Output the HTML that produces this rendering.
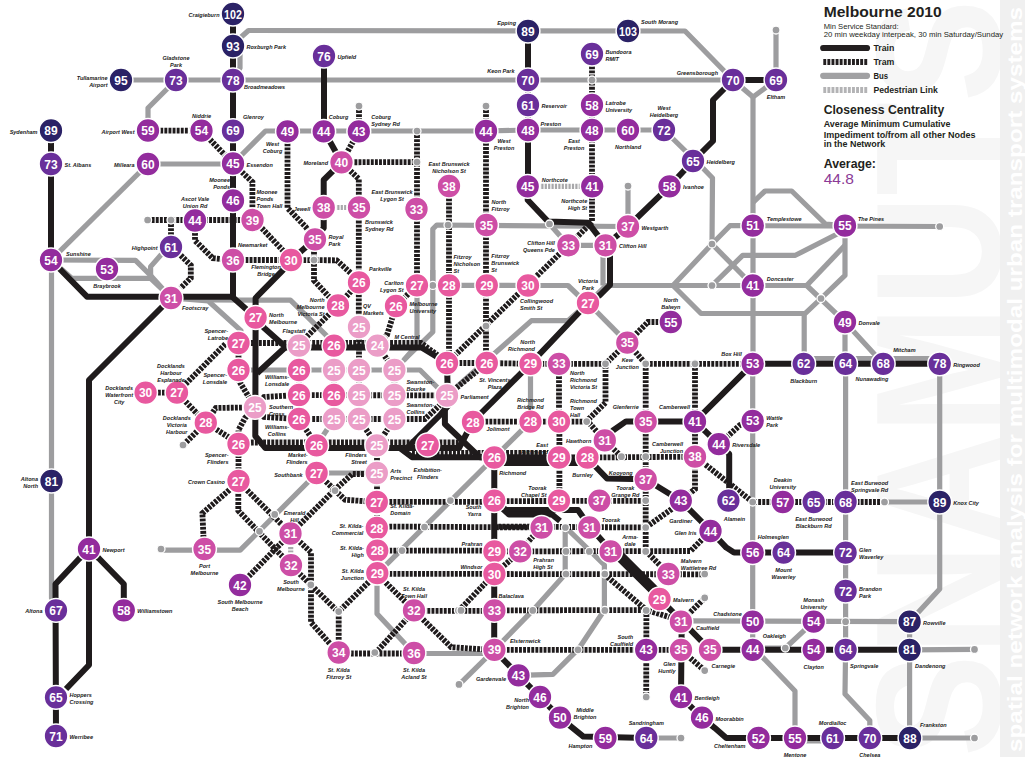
<!DOCTYPE html><html><head><meta charset="utf-8"><style>html,body{margin:0;padding:0;background:#fff;overflow:hidden}svg{display:block}</style></head><body><svg width="1025" height="757" viewBox="0 0 1025 757"><g>
<text transform="translate(1000,757) rotate(-90)" font-family="Liberation Sans" font-weight="bold" font-size="178" fill="#f6f6f6" textLength="757" lengthAdjust="spacingAndGlyphs">SNAMUTS</text>
<rect x="1000" y="0" width="25" height="757" fill="#f0f0f0"/>
<text transform="translate(1022,752) rotate(-90)" font-family="Liberation Sans" font-weight="bold" font-size="21" fill="#ffffff" textLength="745" lengthAdjust="spacingAndGlyphs">spatial network analysis for multimodal urban transport systems</text>
</g>
<g stroke="#9d9d9f" stroke-width="5.2" fill="none" stroke-linejoin="round"><path d="M121.0,80.0 L733.0,80.0"/><path d="M233.0,80.0 L240.0,68.0 L240.0,38.0 L248.5,30.5 L685.0,31.0 L733.0,80.0"/><path d="M176.0,80.0 L148.0,108.0 L148.0,130.0"/><path d="M148.0,164.0 L233.0,164.0"/><path d="M51.0,260.0 L148.0,164.0"/><path d="M233.0,163.5 L265.5,131.0 L486.0,131.0 L528.0,130.0 L664.0,130.0 L702.8,168.0 L712.5,178.0 L712.0,244.0"/><path d="M51.5,260.0 L51.5,598.0 L56.0,610.3"/><path d="M51.0,260.0 L135.5,260.3 L150.6,275.4 L171.0,298.0"/><path d="M51.0,260.0 L72.0,278.4 L150.6,278.4 L163.0,290.0"/><path d="M171.0,247.0 L160.6,255.3 L150.6,266.6 L150.6,278.0"/><path d="M432.8,285.3 L432.8,229.0 L436.8,225.0 L628.0,226.5"/><path d="M417.0,285.3 L528.0,285.5"/><path d="M776.0,30.0 L776.0,80.0"/><path d="M733.0,80.0 L753.0,97.0 L776.0,80.0"/><path d="M753.0,97.0 L753.0,363.8"/><path d="M628.0,186.0 L628.0,226.5"/><path d="M549.5,224.0 L568.4,245.3 L605.5,245.3"/><path d="M447.0,395.5 L531.5,320.6 L568.0,320.6 L588.0,303.0"/><path d="M528.0,285.5 L568.0,285.5 L580.0,297.0 L588.0,303.0"/><path d="M588.0,303.0 L606.0,285.5 L806.7,285.5 L845.0,322.0 L883.2,363.8"/><path d="M588.0,303.0 L627.3,342.7"/><path d="M752.8,225.7 L730.0,225.7 L712.0,244.0 L673.0,285.5 L701.0,313.5 L804.2,313.5"/><path d="M712.0,244.0 L752.8,285.5"/><path d="M752.8,202.6 L765.0,191.0 L791.7,191.0 L825.5,224.0 L845.0,225.7"/><path d="M752.8,225.7 L939.7,226.5"/><path d="M845.0,230.0 L795.4,255.3 L742.7,255.3 L712.0,285.5"/><path d="M845.0,225.7 L845.0,275.4 L821.0,298.5 L804.2,314.3 L804.2,363.8"/><path d="M845.0,245.3 L806.7,285.5"/><path d="M845.0,322.0 L845.0,363.8"/><path d="M238.5,370.0 L420.0,370.0 L440.0,390.0 L447.8,395.5"/><path d="M334.0,419.0 L316.6,445.4"/><path d="M171.0,298.0 L208.3,301.0 L241.0,330.6 L238.5,343.0"/><path d="M208.3,300.0 L290.4,300.1 L326.0,335.2 L334.0,345.7"/><path d="M417.0,285.3 L417.0,345.0 L404.0,360.0 L394.4,370.0"/><path d="M432.8,270.0 L432.8,332.0 L404.0,360.0"/><path d="M161.0,550.2 L240.2,550.2 L317.0,473.0 L376.8,473.0"/><path d="M377.0,573.9 L530.5,421.6"/><path d="M377.0,573.9 L377.0,613.7 L414.2,653.5"/><path d="M414.2,653.5 L494.2,653.5"/><path d="M459.3,684.4 L494.2,650.0"/><path d="M646.3,738.0 L681.0,738.0"/><path d="M565.2,526.8 L565.2,574.3 L532.8,610.4 L494.2,650.0"/><path d="M565.2,526.8 L589.6,550.5 L604.4,565.0 L604.4,610.0 L578.7,648.7 L552.9,674.4 L518.5,675.4"/><path d="M752.7,649.8 L763.0,657.6 L795.0,691.0 L795.0,738.0"/><path d="M845.6,649.8 L845.0,694.0 L869.8,720.5 L869.8,738.0"/><path d="M909.6,621.7 L909.6,738.0"/><path d="M909.6,649.8 L974.5,649.4"/><path d="M910.0,738.0 L974.5,738.0"/><path d="M795.0,741.0 L832.6,741.0"/><path d="M803.7,358.5 L939.7,358.5"/><path d="M939.7,363.8 L939.7,589.0 L909.6,621.7"/><path d="M884.5,502.0 L939.7,502.0"/><path d="M752.7,363.8 L752.7,649.8"/><path d="M845.6,363.8 L845.6,649.8"/><path d="M681.7,620.9 L909.6,621.7"/><path d="M813.7,621.7 L785.3,648.0 L765.0,648.0"/><path d="M603.0,256.0 L603.0,285.5"/><path d="M530.5,363.8 L530.5,421.6"/></g><g stroke="#a8a8aa" stroke-width="5.2" fill="none" stroke-dasharray="2.2 1.2"><path d="M323.7,207.5 L358.8,207.5"/><path d="M527.7,186.3 L592.2,186.3"/><path d="M290.7,533.4 L290.7,565.1"/></g><g stroke="#1f1b1c" stroke-width="5.8" fill="none" stroke-dasharray="2.9 1.2"><path d="M148.0,130.5 L201.5,130.7"/><path d="M201.5,130.7 L233.0,163.5"/><path d="M233.0,163.5 L252.4,182.0 L252.4,220.0"/><path d="M359.0,106.0 L359.0,131.0 L341.5,162.3 L417.0,162.0"/><path d="M341.5,162.3 L358.8,179.0 L358.8,327.0"/><path d="M417.0,131.0 L417.0,285.3"/><path d="M287.5,131.0 L287.5,208.0 L305.6,226.8 L315.0,239.3"/><path d="M252.5,220.0 L261.7,228.0 L283.0,250.6 L291.0,260.0"/><path d="M147.6,220.0 L252.5,220.0"/><path d="M171.0,220.0 L171.0,247.0"/><path d="M180.7,255.3 L190.8,265.3 L190.8,278.0 L180.7,288.0"/><path d="M195.0,220.5 L195.0,240.6 L212.8,258.2 L233.0,260.0 L291.0,260.0"/><path d="M291.0,260.0 L336.6,260.3 L351.7,274.0 L359.0,282.4"/><path d="M314.0,239.3 L314.0,280.4 L327.8,295.5 L338.0,305.5"/><path d="M486.0,106.0 L486.0,363.0"/><path d="M449.0,186.0 L449.0,363.0"/><path d="M592.0,54.0 L592.0,222.0 L570.0,244.0"/><path d="M568.4,245.3 L447.0,363.0"/><path d="M447.0,395.5 L486.8,363.0"/><path d="M627.3,342.7 L648.0,322.0 L670.8,322.0"/><path d="M627.3,342.7 L605.5,363.8"/><path d="M627.3,342.7 L645.7,363.8"/><path d="M242.5,343.0 L421.0,343.0 L440.0,357.0"/><path d="M238.5,442.5 L459.0,442.5"/><path d="M412.0,453.0 L494.0,453.0"/><path d="M145.6,392.6 L177.0,392.6"/><path d="M177.0,392.6 L226.0,343.5 L238.5,343.0"/><path d="M177.0,392.6 L205.8,422.7"/><path d="M205.8,422.7 L215.8,408.0 L255.0,407.3"/><path d="M205.8,422.7 L238.5,443.6"/><path d="M205.8,422.7 L183.0,445.3"/><path d="M238.5,370.0 L238.5,380.0 L255.0,407.3"/><path d="M255.0,407.3 L245.0,418.0 L238.5,430.0 L238.5,481.5"/><path d="M238.5,343.0 L238.5,370.0"/><path d="M255.0,407.3 L264.0,397.0 L299.0,395.0 L447.0,395.5"/><path d="M255.0,407.3 L264.0,417.0 L299.0,419.0 L425.0,419.0 L440.0,405.0"/><path d="M299.0,419.0 L316.6,445.4"/><path d="M359.0,419.0 L377.0,445.4 L394.4,419.0"/><path d="M377.0,445.4 L377.0,573.9"/><path d="M417.0,285.3 L396.0,306.0 L387.0,335.0 L377.5,345.7"/><path d="M377.5,345.7 L394.4,370.0"/><path d="M338.0,305.5 L359.0,282.4"/><path d="M338.0,305.5 L308.2,335.2 L299.0,345.7"/><path d="M359.0,327.0 L359.0,419.0"/><path d="M334.0,345.7 L334.0,419.0"/><path d="M299.0,345.7 L299.0,419.0"/><path d="M394.4,370.0 L394.4,419.0"/><path d="M447.0,363.0 L486.8,363.0 L530.5,363.8 L559.0,363.8 L605.5,363.8"/><path d="M645.7,363.8 L752.7,363.8"/><path d="M238.3,481.5 L238.3,510.7 L290.7,565.1"/><path d="M238.3,481.5 L290.7,533.4"/><path d="M238.3,481.5 L229.3,490.0 L202.4,513.2 L204.1,550.2"/><path d="M317.0,473.0 L345.0,499.8 L376.8,502.0"/><path d="M290.7,533.4 L334.6,490.0 L352.4,474.0 L376.8,474.0"/><path d="M240.2,585.1 L290.7,533.4"/><path d="M290.7,533.4 L311.0,552.2 L311.0,622.4 L338.7,653.5"/><path d="M290.7,565.1 L338.3,612.0 L377.0,573.9"/><path d="M377.0,501.8 L494.2,501.8"/><path d="M377.0,526.5 L541.6,527.5"/><path d="M377.0,550.6 L494.2,550.6"/><path d="M377.0,573.9 L494.2,573.9"/><path d="M377.0,573.9 L414.2,610.8 L494.2,610.8"/><path d="M458.7,610.8 L494.2,573.9"/><path d="M414.2,610.8 L451.2,647.2 L494.2,650.0"/><path d="M338.7,612.3 L338.7,653.5 L414.2,653.5"/><path d="M375.0,653.5 L414.2,610.8"/><path d="M559.4,421.6 L559.4,501.1"/><path d="M494.3,501.1 L645.9,500.8"/><path d="M494.3,526.5 L645.7,527.5 L681.7,502.0"/><path d="M541.9,526.5 L519.7,551.0"/><path d="M587.1,457.5 L695.0,456.7"/><path d="M604.6,440.5 L587.1,420.6 L605.5,402.7 L605.5,363.8"/><path d="M604.6,440.5 L621.6,456.8"/><path d="M695.9,457.1 L752.7,502.0 L884.5,502.0"/><path d="M752.7,420.8 L740.0,425.0 L718.8,444.2"/><path d="M645.7,363.8 L645.7,551.4"/><path d="M695.0,363.8 L695.0,489.0 L680.8,500.6"/><path d="M494.4,551.4 L690.6,551.0 L710.5,531.0"/><path d="M646.0,551.0 L668.8,574.3"/><path d="M494.4,574.0 L704.5,574.3"/><path d="M494.4,574.0 L520.2,551.4"/><path d="M604.4,574.3 L646.4,610.0 L681.7,620.9"/><path d="M494.4,610.4 L646.4,610.0"/><path d="M646.4,610.0 L646.2,697.0"/><path d="M681.7,620.9 L704.5,598.1"/><path d="M494.4,649.8 L681.0,649.8"/><path d="M681.0,650.0 L704.7,670.6"/><path d="M559.0,363.8 L559.0,421.6"/><path d="M473.0,421.6 L586.7,421.6"/><path d="M502.0,453.0 L555.0,453.0"/></g><g stroke="#1f1b1c" stroke-width="6" fill="none" stroke-linejoin="round"><path d="M233.0,14.0 L233.0,297.5 L255.6,317.5"/><path d="M51.0,130.0 L51.0,260.0 L87.0,296.7 L233.0,296.7"/><path d="M324.0,56.0 L324.0,131.0 L341.5,162.3 L323.7,180.0 L323.7,228.0 L315.0,239.3 L291.0,260.0 L282.7,270.4 L255.6,298.0 L255.6,317.5"/><path d="M171.0,298.0 L89.0,380.0 L89.0,549.0"/><path d="M528.0,31.0 L528.0,186.3 L527.7,200.0 L548.0,221.5 L588.0,222.7 L605.5,245.3"/><path d="M605.5,245.3 L628.0,226.5 L669.5,186.3 L693.0,161.0 L713.0,141.0 L713.0,100.0 L733.0,80.0 L776.0,80.0"/><path d="M605.5,245.3 L610.0,256.0 L610.0,285.0 L600.0,295.0 L588.0,303.0 L530.5,363.8"/><path d="M255.6,317.5 L255.3,436.0 L265.4,448.0 L407.0,448.0 L440.6,414.5 L447.8,406.0 L447.8,395.5"/><path d="M255.6,317.5 L264.2,328.0 L285.6,347.0 L257.1,373.2"/><path d="M285.6,347.5 L421.5,347.5 L447.0,363.0 L447.8,395.5"/><path d="M447.8,395.5 L444.9,406.0 L444.9,424.0 L479.8,457.2 L494.3,457.2"/><path d="M400.0,448.0 L412.0,457.2 L494.3,457.2"/><path d="M407.0,448.0 L459.0,448.0 L473.2,421.0"/><path d="M473.2,421.0 L530.5,363.8"/><path d="M494.3,457.2 L494.2,650.0 L518.5,675.4 L540.0,697.0 L560.0,717.6 L583.4,736.6 L646.3,738.0"/><path d="M494.3,457.2 L587.1,457.5 L604.8,440.4"/><path d="M502.0,463.0 L580.0,463.0 L594.0,465.0 L607.0,478.5 L645.7,479.3"/><path d="M604.6,440.5 L613.3,430.2 L626.0,421.4 L695.1,421.4 L752.7,363.8"/><path d="M695.1,421.4 L718.9,444.4 L729.2,454.0 L729.2,487.3 L728.4,500.6"/><path d="M645.7,479.3 L680.8,500.8 L710.5,530.7 L726.3,547.6 L734.0,552.6 L845.6,552.6"/><path d="M494.3,501.1 L506.0,510.0 L578.0,510.0 L589.5,526.5 L610.8,550.5 L658.9,598.1 L681.7,620.9 L710.0,649.8 L909.6,649.8"/><path d="M494.3,501.1 L509.0,514.5 L552.0,514.5 L560.0,521.0"/><path d="M614.0,547.0 L662.0,595.0"/><path d="M681.7,620.9 L681.0,697.0 L702.0,717.6 L714.6,727.8 L726.3,738.0 L910.0,738.0"/><path d="M752.7,363.8 L939.7,363.8"/><path d="M89.0,549.0 L79.4,558.5 L55.5,584.0 L56.0,736.0"/><path d="M89.0,549.0 L89.0,665.0 L66.0,689.0"/><path d="M89.0,549.0 L99.0,558.5 L123.8,584.0 L123.8,610.3"/></g><g fill="#9d9d9f" stroke="#fff" stroke-width="1.3"><circle cx="147.6" cy="220.0" r="4"/><circle cx="171.0" cy="220.0" r="4"/><circle cx="359.0" cy="106.0" r="4"/><circle cx="486.0" cy="106.0" r="4"/><circle cx="417.0" cy="131.0" r="4"/><circle cx="417.0" cy="162.0" r="4"/><circle cx="592.0" cy="80.0" r="4"/><circle cx="628.0" cy="186.0" r="4"/><circle cx="549.5" cy="224.0" r="4"/><circle cx="712.0" cy="244.0" r="4"/><circle cx="712.0" cy="285.5" r="4"/><circle cx="821.0" cy="298.5" r="4"/><circle cx="939.7" cy="226.5" r="4"/><circle cx="314.0" cy="260.0" r="4"/><circle cx="432.8" cy="285.4" r="4"/><circle cx="448.0" cy="225.0" r="4"/><circle cx="486.0" cy="326.0" r="4"/><circle cx="183.0" cy="445.0" r="4"/><circle cx="161.0" cy="549.0" r="4"/><circle cx="274.7" cy="514.4" r="4"/><circle cx="259.5" cy="531.3" r="4"/><circle cx="335.0" cy="490.6" r="4"/><circle cx="450.4" cy="500.6" r="4"/><circle cx="424.5" cy="527.0" r="4"/><circle cx="310.8" cy="584.8" r="4"/><circle cx="338.7" cy="611.6" r="4"/><circle cx="402.0" cy="550.6" r="4"/><circle cx="458.4" cy="610.4" r="4"/><circle cx="374.8" cy="652.5" r="4"/><circle cx="459.0" cy="684.4" r="4"/><circle cx="605.5" cy="363.8" r="4"/><circle cx="645.7" cy="363.8" r="4"/><circle cx="695.0" cy="363.8" r="4"/><circle cx="586.7" cy="421.6" r="4"/><circle cx="621.4" cy="456.7" r="4"/><circle cx="645.7" cy="456.7" r="4"/><circle cx="645.7" cy="500.6" r="4"/><circle cx="565.4" cy="527.5" r="4"/><circle cx="645.7" cy="527.5" r="4"/><circle cx="566.0" cy="551.4" r="4"/><circle cx="589.3" cy="551.4" r="4"/><circle cx="645.7" cy="551.4" r="4"/><circle cx="566.0" cy="574.0" r="4"/><circle cx="604.8" cy="574.0" r="4"/><circle cx="704.7" cy="574.0" r="4"/><circle cx="532.8" cy="610.4" r="4"/><circle cx="604.8" cy="610.4" r="4"/><circle cx="646.2" cy="610.4" r="4"/><circle cx="578.0" cy="649.8" r="4"/><circle cx="704.7" cy="597.8" r="4"/><circle cx="704.7" cy="670.6" r="4"/><circle cx="646.2" cy="697.0" r="4"/><circle cx="461.0" cy="610.4" r="4"/><circle cx="681.0" cy="738.0" r="4"/><circle cx="752.7" cy="502.0" r="4"/><circle cx="884.5" cy="502.0" r="4"/><circle cx="845.6" cy="621.7" r="4"/><circle cx="785.3" cy="648.0" r="4"/><circle cx="974.5" cy="649.4" r="4"/><circle cx="974.5" cy="738.0" r="4"/><circle cx="776.0" cy="30.0" r="4"/></g><g stroke="#fff" stroke-width="1.5"><circle cx="233.0" cy="14.0" r="11.9" fill="#2b2266"/><circle cx="233.0" cy="46.0" r="11.9" fill="#2b2266"/><circle cx="233.0" cy="80.0" r="11.9" fill="#692f9a"/><circle cx="121.0" cy="80.0" r="11.9" fill="#2b2266"/><circle cx="176.0" cy="80.0" r="11.9" fill="#692f9a"/><circle cx="148.0" cy="130.5" r="11.9" fill="#932c9d"/><circle cx="201.5" cy="130.7" r="11.9" fill="#932c9d"/><circle cx="233.0" cy="130.7" r="11.9" fill="#692f9a"/><circle cx="51.0" cy="130.5" r="11.9" fill="#2b2266"/><circle cx="51.0" cy="164.0" r="11.9" fill="#692f9a"/><circle cx="148.0" cy="164.0" r="11.9" fill="#932c9d"/><circle cx="233.0" cy="163.5" r="11.9" fill="#932c9d"/><circle cx="324.0" cy="56.0" r="11.9" fill="#692f9a"/><circle cx="287.5" cy="131.4" r="11.9" fill="#932c9d"/><circle cx="323.7" cy="131.4" r="11.9" fill="#932c9d"/><circle cx="358.8" cy="131.4" r="11.9" fill="#932c9d"/><circle cx="486.0" cy="131.0" r="11.9" fill="#932c9d"/><circle cx="341.5" cy="162.3" r="11.9" fill="#cd4ea6"/><circle cx="449.0" cy="186.0" r="11.9" fill="#cd4ea6"/><circle cx="528.0" cy="31.0" r="11.9" fill="#2b2266"/><circle cx="628.0" cy="31.0" r="11.9" fill="#2b2266"/><circle cx="592.0" cy="54.0" r="11.9" fill="#692f9a"/><circle cx="528.0" cy="80.0" r="11.9" fill="#692f9a"/><circle cx="528.0" cy="105.0" r="11.9" fill="#692f9a"/><circle cx="592.0" cy="105.0" r="11.9" fill="#932c9d"/><circle cx="528.0" cy="130.0" r="11.9" fill="#932c9d"/><circle cx="592.0" cy="130.0" r="11.9" fill="#932c9d"/><circle cx="628.0" cy="130.0" r="11.9" fill="#932c9d"/><circle cx="664.0" cy="130.0" r="11.9" fill="#692f9a"/><circle cx="693.0" cy="161.0" r="11.9" fill="#692f9a"/><circle cx="669.5" cy="186.3" r="11.9" fill="#932c9d"/><circle cx="527.7" cy="186.3" r="11.9" fill="#932c9d"/><circle cx="592.2" cy="186.3" r="11.9" fill="#932c9d"/><circle cx="733.0" cy="80.0" r="11.9" fill="#692f9a"/><circle cx="776.0" cy="80.0" r="11.9" fill="#692f9a"/><circle cx="51.0" cy="260.0" r="11.9" fill="#932c9d"/><circle cx="107.0" cy="269.0" r="11.9" fill="#932c9d"/><circle cx="171.0" cy="247.0" r="11.9" fill="#692f9a"/><circle cx="195.0" cy="220.5" r="11.9" fill="#932c9d"/><circle cx="233.0" cy="200.5" r="11.9" fill="#932c9d"/><circle cx="252.5" cy="220.0" r="11.9" fill="#cd4ea6"/><circle cx="233.0" cy="260.0" r="11.9" fill="#cd4ea6"/><circle cx="171.0" cy="298.0" r="11.9" fill="#cd4ea6"/><circle cx="323.7" cy="207.5" r="11.9" fill="#cd4ea6"/><circle cx="359.0" cy="207.5" r="11.9" fill="#cd4ea6"/><circle cx="416.5" cy="209.0" r="11.9" fill="#cd4ea6"/><circle cx="315.0" cy="239.3" r="11.9" fill="#cd4ea6"/><circle cx="291.0" cy="260.0" r="11.9" fill="#e8599f"/><circle cx="359.0" cy="282.4" r="11.9" fill="#e8599f"/><circle cx="417.0" cy="285.3" r="11.9" fill="#e8599f"/><circle cx="449.0" cy="285.3" r="11.9" fill="#e8599f"/><circle cx="486.8" cy="285.3" r="11.9" fill="#e8599f"/><circle cx="486.5" cy="225.0" r="11.9" fill="#cd4ea6"/><circle cx="338.0" cy="305.5" r="11.9" fill="#e8599f"/><circle cx="396.0" cy="306.0" r="11.9" fill="#e8599f"/><circle cx="255.6" cy="317.5" r="11.9" fill="#e8599f"/><circle cx="359.0" cy="327.0" r="11.9" fill="#eb9dc7"/><circle cx="299.0" cy="345.7" r="11.9" fill="#eb9dc7"/><circle cx="334.0" cy="345.7" r="11.9" fill="#e8599f"/><circle cx="377.5" cy="345.7" r="11.9" fill="#eb9dc7"/><circle cx="447.0" cy="363.0" r="11.9" fill="#e8599f"/><circle cx="486.8" cy="363.0" r="11.9" fill="#e8599f"/><circle cx="568.4" cy="245.3" r="11.9" fill="#cd4ea6"/><circle cx="605.5" cy="245.3" r="11.9" fill="#cd4ea6"/><circle cx="628.0" cy="226.5" r="11.9" fill="#cd4ea6"/><circle cx="528.0" cy="285.5" r="11.9" fill="#e8599f"/><circle cx="588.0" cy="303.0" r="11.9" fill="#e8599f"/><circle cx="670.8" cy="322.0" r="11.9" fill="#932c9d"/><circle cx="627.3" cy="342.7" r="11.9" fill="#cd4ea6"/><circle cx="530.5" cy="363.8" r="11.9" fill="#e8599f"/><circle cx="559.0" cy="363.8" r="11.9" fill="#cd4ea6"/><circle cx="752.8" cy="225.7" r="11.9" fill="#932c9d"/><circle cx="845.0" cy="225.7" r="11.9" fill="#932c9d"/><circle cx="752.8" cy="285.5" r="11.9" fill="#932c9d"/><circle cx="845.0" cy="322.0" r="11.9" fill="#932c9d"/><circle cx="752.7" cy="363.8" r="11.9" fill="#932c9d"/><circle cx="803.7" cy="363.8" r="11.9" fill="#692f9a"/><circle cx="845.6" cy="363.8" r="11.9" fill="#692f9a"/><circle cx="883.2" cy="363.8" r="11.9" fill="#692f9a"/><circle cx="939.7" cy="363.8" r="11.9" fill="#692f9a"/><circle cx="51.5" cy="481.0" r="11.9" fill="#2b2266"/><circle cx="89.0" cy="549.0" r="11.9" fill="#932c9d"/><circle cx="145.6" cy="392.6" r="11.9" fill="#e8599f"/><circle cx="177.0" cy="392.6" r="11.9" fill="#e8599f"/><circle cx="205.8" cy="422.7" r="11.9" fill="#e8599f"/><circle cx="238.5" cy="370.0" r="11.9" fill="#e8599f"/><circle cx="238.5" cy="343.0" r="11.9" fill="#e8599f"/><circle cx="238.5" cy="444.0" r="11.9" fill="#e8599f"/><circle cx="238.5" cy="481.0" r="11.9" fill="#e8599f"/><circle cx="255.0" cy="407.3" r="11.9" fill="#eb9dc7"/><circle cx="299.0" cy="370.0" r="11.9" fill="#e8599f"/><circle cx="334.0" cy="370.0" r="11.9" fill="#eb9dc7"/><circle cx="359.0" cy="370.0" r="11.9" fill="#eb9dc7"/><circle cx="394.4" cy="370.0" r="11.9" fill="#eb9dc7"/><circle cx="299.0" cy="395.0" r="11.9" fill="#e8599f"/><circle cx="334.0" cy="395.0" r="11.9" fill="#e8599f"/><circle cx="359.0" cy="395.0" r="11.9" fill="#eb9dc7"/><circle cx="394.4" cy="395.0" r="11.9" fill="#eb9dc7"/><circle cx="447.0" cy="395.5" r="11.9" fill="#eb9dc7"/><circle cx="299.0" cy="419.0" r="11.9" fill="#e8599f"/><circle cx="334.0" cy="419.0" r="11.9" fill="#eb9dc7"/><circle cx="359.0" cy="419.0" r="11.9" fill="#eb9dc7"/><circle cx="394.4" cy="419.0" r="11.9" fill="#eb9dc7"/><circle cx="473.0" cy="422.0" r="11.9" fill="#e8599f"/><circle cx="316.6" cy="445.4" r="11.9" fill="#e8599f"/><circle cx="376.8" cy="445.4" r="11.9" fill="#eb9dc7"/><circle cx="427.7" cy="445.0" r="11.9" fill="#e8599f"/><circle cx="316.6" cy="473.0" r="11.9" fill="#e8599f"/><circle cx="376.8" cy="473.0" r="11.9" fill="#eb9dc7"/><circle cx="376.8" cy="502.0" r="11.9" fill="#e8599f"/><circle cx="376.8" cy="528.0" r="11.9" fill="#e8599f"/><circle cx="290.5" cy="533.5" r="11.9" fill="#cd4ea6"/><circle cx="291.0" cy="565.2" r="11.9" fill="#cd4ea6"/><circle cx="204.5" cy="549.0" r="11.9" fill="#cd4ea6"/><circle cx="240.0" cy="585.0" r="11.9" fill="#932c9d"/><circle cx="377.3" cy="550.6" r="11.9" fill="#e8599f"/><circle cx="377.3" cy="573.2" r="11.9" fill="#e8599f"/><circle cx="414.0" cy="610.4" r="11.9" fill="#cd4ea6"/><circle cx="338.7" cy="652.5" r="11.9" fill="#cd4ea6"/><circle cx="414.0" cy="653.0" r="11.9" fill="#cd4ea6"/><circle cx="530.5" cy="421.6" r="11.9" fill="#e8599f"/><circle cx="559.0" cy="421.6" r="11.9" fill="#e8599f"/><circle cx="645.7" cy="421.6" r="11.9" fill="#cd4ea6"/><circle cx="695.0" cy="421.6" r="11.9" fill="#932c9d"/><circle cx="604.8" cy="440.4" r="11.9" fill="#cd4ea6"/><circle cx="718.8" cy="444.2" r="11.9" fill="#932c9d"/><circle cx="494.3" cy="457.5" r="11.9" fill="#e8599f"/><circle cx="559.0" cy="457.5" r="11.9" fill="#e8599f"/><circle cx="587.5" cy="457.5" r="11.9" fill="#e8599f"/><circle cx="695.0" cy="456.7" r="11.9" fill="#cd4ea6"/><circle cx="645.7" cy="479.3" r="11.9" fill="#cd4ea6"/><circle cx="680.8" cy="500.6" r="11.9" fill="#932c9d"/><circle cx="494.3" cy="500.6" r="11.9" fill="#e8599f"/><circle cx="559.0" cy="500.6" r="11.9" fill="#e8599f"/><circle cx="599.3" cy="500.6" r="11.9" fill="#cd4ea6"/><circle cx="541.6" cy="527.5" r="11.9" fill="#cd4ea6"/><circle cx="589.3" cy="527.5" r="11.9" fill="#cd4ea6"/><circle cx="728.4" cy="500.6" r="11.9" fill="#692f9a"/><circle cx="710.5" cy="531.0" r="11.9" fill="#932c9d"/><circle cx="752.7" cy="420.8" r="11.9" fill="#932c9d"/><circle cx="782.8" cy="502.0" r="11.9" fill="#932c9d"/><circle cx="813.7" cy="502.0" r="11.9" fill="#692f9a"/><circle cx="845.6" cy="502.0" r="11.9" fill="#692f9a"/><circle cx="939.7" cy="502.0" r="11.9" fill="#2b2266"/><circle cx="56.0" cy="610.3" r="11.9" fill="#692f9a"/><circle cx="123.8" cy="610.3" r="11.9" fill="#932c9d"/><circle cx="56.0" cy="697.3" r="11.9" fill="#692f9a"/><circle cx="56.0" cy="736.0" r="11.9" fill="#692f9a"/><circle cx="494.4" cy="551.4" r="11.9" fill="#e8599f"/><circle cx="520.2" cy="551.4" r="11.9" fill="#cd4ea6"/><circle cx="610.6" cy="551.4" r="11.9" fill="#cd4ea6"/><circle cx="494.4" cy="574.0" r="11.9" fill="#e8599f"/><circle cx="668.3" cy="574.0" r="11.9" fill="#cd4ea6"/><circle cx="659.5" cy="599.0" r="11.9" fill="#e8599f"/><circle cx="494.4" cy="610.4" r="11.9" fill="#cd4ea6"/><circle cx="680.9" cy="621.7" r="11.9" fill="#cd4ea6"/><circle cx="494.4" cy="649.8" r="11.9" fill="#cd4ea6"/><circle cx="646.2" cy="649.8" r="11.9" fill="#932c9d"/><circle cx="681.0" cy="649.8" r="11.9" fill="#cd4ea6"/><circle cx="710.0" cy="649.8" r="11.9" fill="#cd4ea6"/><circle cx="518.5" cy="675.4" r="11.9" fill="#932c9d"/><circle cx="540.0" cy="697.0" r="11.9" fill="#932c9d"/><circle cx="560.0" cy="717.6" r="11.9" fill="#932c9d"/><circle cx="605.4" cy="738.0" r="11.9" fill="#932c9d"/><circle cx="646.3" cy="738.0" r="11.9" fill="#692f9a"/><circle cx="681.0" cy="697.0" r="11.9" fill="#932c9d"/><circle cx="702.0" cy="717.6" r="11.9" fill="#932c9d"/><circle cx="752.7" cy="552.6" r="11.9" fill="#932c9d"/><circle cx="783.6" cy="552.6" r="11.9" fill="#692f9a"/><circle cx="845.6" cy="552.6" r="11.9" fill="#692f9a"/><circle cx="845.6" cy="591.0" r="11.9" fill="#692f9a"/><circle cx="752.7" cy="621.7" r="11.9" fill="#932c9d"/><circle cx="813.7" cy="621.7" r="11.9" fill="#932c9d"/><circle cx="909.6" cy="621.7" r="11.9" fill="#2b2266"/><circle cx="752.7" cy="649.8" r="11.9" fill="#932c9d"/><circle cx="813.7" cy="649.8" r="11.9" fill="#932c9d"/><circle cx="845.6" cy="649.8" r="11.9" fill="#692f9a"/><circle cx="909.6" cy="649.8" r="11.9" fill="#2b2266"/><circle cx="758.5" cy="738.0" r="11.9" fill="#932c9d"/><circle cx="795.0" cy="738.0" r="11.9" fill="#932c9d"/><circle cx="832.6" cy="738.0" r="11.9" fill="#692f9a"/><circle cx="869.8" cy="738.0" r="11.9" fill="#692f9a"/><circle cx="910.0" cy="738.0" r="11.9" fill="#2b2266"/></g><g fill="#fff" font-family="Liberation Sans" font-weight="bold" font-size="12.75" text-anchor="middle"><text transform="translate(233.0,18.6) scale(0.84,1)">102</text><text transform="translate(233.0,50.6) scale(0.94,1)">93</text><text transform="translate(233.0,84.6) scale(0.94,1)">78</text><text transform="translate(121.0,84.6) scale(0.94,1)">95</text><text transform="translate(176.0,84.6) scale(0.94,1)">73</text><text transform="translate(148.0,135.1) scale(0.94,1)">59</text><text transform="translate(201.5,135.29999999999998) scale(0.94,1)">54</text><text transform="translate(233.0,135.29999999999998) scale(0.94,1)">69</text><text transform="translate(51.0,135.1) scale(0.94,1)">89</text><text transform="translate(51.0,168.6) scale(0.94,1)">73</text><text transform="translate(148.0,168.6) scale(0.94,1)">60</text><text transform="translate(233.0,168.1) scale(0.94,1)">45</text><text transform="translate(324.0,60.6) scale(0.94,1)">76</text><text transform="translate(287.5,136.0) scale(0.94,1)">49</text><text transform="translate(323.7,136.0) scale(0.94,1)">44</text><text transform="translate(358.8,136.0) scale(0.94,1)">43</text><text transform="translate(486.0,135.6) scale(0.94,1)">44</text><text transform="translate(341.5,166.9) scale(0.94,1)">40</text><text transform="translate(449.0,190.6) scale(0.94,1)">38</text><text transform="translate(528.0,35.6) scale(0.94,1)">89</text><text transform="translate(628.0,35.6) scale(0.84,1)">103</text><text transform="translate(592.0,58.6) scale(0.94,1)">69</text><text transform="translate(528.0,84.6) scale(0.94,1)">70</text><text transform="translate(528.0,109.6) scale(0.94,1)">61</text><text transform="translate(592.0,109.6) scale(0.94,1)">58</text><text transform="translate(528.0,134.6) scale(0.94,1)">48</text><text transform="translate(592.0,134.6) scale(0.94,1)">48</text><text transform="translate(628.0,134.6) scale(0.94,1)">60</text><text transform="translate(664.0,134.6) scale(0.94,1)">72</text><text transform="translate(693.0,165.6) scale(0.94,1)">65</text><text transform="translate(669.5,190.9) scale(0.94,1)">58</text><text transform="translate(527.7,190.9) scale(0.94,1)">45</text><text transform="translate(592.2,190.9) scale(0.94,1)">41</text><text transform="translate(733.0,84.6) scale(0.94,1)">70</text><text transform="translate(776.0,84.6) scale(0.94,1)">69</text><text transform="translate(51.0,264.6) scale(0.94,1)">54</text><text transform="translate(107.0,273.6) scale(0.94,1)">53</text><text transform="translate(171.0,251.6) scale(0.94,1)">61</text><text transform="translate(195.0,225.1) scale(0.94,1)">44</text><text transform="translate(233.0,205.1) scale(0.94,1)">46</text><text transform="translate(252.5,224.6) scale(0.94,1)">39</text><text transform="translate(233.0,264.6) scale(0.94,1)">36</text><text transform="translate(171.0,302.6) scale(0.94,1)">31</text><text transform="translate(323.7,212.1) scale(0.94,1)">38</text><text transform="translate(359.0,212.1) scale(0.94,1)">35</text><text transform="translate(416.5,213.6) scale(0.94,1)">33</text><text transform="translate(315.0,243.9) scale(0.94,1)">35</text><text transform="translate(291.0,264.6) scale(0.94,1)">30</text><text transform="translate(359.0,287.0) scale(0.94,1)">26</text><text transform="translate(417.0,289.90000000000003) scale(0.94,1)">27</text><text transform="translate(449.0,289.90000000000003) scale(0.94,1)">28</text><text transform="translate(486.8,289.90000000000003) scale(0.94,1)">29</text><text transform="translate(486.5,229.6) scale(0.94,1)">35</text><text transform="translate(338.0,310.1) scale(0.94,1)">28</text><text transform="translate(396.0,310.6) scale(0.94,1)">26</text><text transform="translate(255.6,322.1) scale(0.94,1)">27</text><text transform="translate(359.0,331.6) scale(0.94,1)">25</text><text transform="translate(299.0,350.3) scale(0.94,1)">25</text><text transform="translate(334.0,350.3) scale(0.94,1)">26</text><text transform="translate(377.5,350.3) scale(0.94,1)">24</text><text transform="translate(447.0,367.6) scale(0.94,1)">26</text><text transform="translate(486.8,367.6) scale(0.94,1)">26</text><text transform="translate(568.4,249.9) scale(0.94,1)">33</text><text transform="translate(605.5,249.9) scale(0.94,1)">31</text><text transform="translate(628.0,231.1) scale(0.94,1)">37</text><text transform="translate(528.0,290.1) scale(0.94,1)">30</text><text transform="translate(588.0,307.6) scale(0.94,1)">27</text><text transform="translate(670.8,326.6) scale(0.94,1)">55</text><text transform="translate(627.3,347.3) scale(0.94,1)">35</text><text transform="translate(530.5,368.40000000000003) scale(0.94,1)">29</text><text transform="translate(559.0,368.40000000000003) scale(0.94,1)">33</text><text transform="translate(752.8,230.29999999999998) scale(0.94,1)">51</text><text transform="translate(845.0,230.29999999999998) scale(0.94,1)">55</text><text transform="translate(752.8,290.1) scale(0.94,1)">41</text><text transform="translate(845.0,326.6) scale(0.94,1)">49</text><text transform="translate(752.7,368.40000000000003) scale(0.94,1)">53</text><text transform="translate(803.7,368.40000000000003) scale(0.94,1)">62</text><text transform="translate(845.6,368.40000000000003) scale(0.94,1)">64</text><text transform="translate(883.2,368.40000000000003) scale(0.94,1)">68</text><text transform="translate(939.7,368.40000000000003) scale(0.94,1)">78</text><text transform="translate(51.5,485.6) scale(0.94,1)">81</text><text transform="translate(89.0,553.6) scale(0.94,1)">41</text><text transform="translate(145.6,397.20000000000005) scale(0.94,1)">30</text><text transform="translate(177.0,397.20000000000005) scale(0.94,1)">27</text><text transform="translate(205.8,427.3) scale(0.94,1)">28</text><text transform="translate(238.5,374.6) scale(0.94,1)">26</text><text transform="translate(238.5,347.6) scale(0.94,1)">27</text><text transform="translate(238.5,448.6) scale(0.94,1)">26</text><text transform="translate(238.5,485.6) scale(0.94,1)">27</text><text transform="translate(255.0,411.90000000000003) scale(0.94,1)">25</text><text transform="translate(299.0,374.6) scale(0.94,1)">26</text><text transform="translate(334.0,374.6) scale(0.94,1)">25</text><text transform="translate(359.0,374.6) scale(0.94,1)">25</text><text transform="translate(394.4,374.6) scale(0.94,1)">25</text><text transform="translate(299.0,399.6) scale(0.94,1)">26</text><text transform="translate(334.0,399.6) scale(0.94,1)">26</text><text transform="translate(359.0,399.6) scale(0.94,1)">25</text><text transform="translate(394.4,399.6) scale(0.94,1)">25</text><text transform="translate(447.0,400.1) scale(0.94,1)">25</text><text transform="translate(299.0,423.6) scale(0.94,1)">26</text><text transform="translate(334.0,423.6) scale(0.94,1)">25</text><text transform="translate(359.0,423.6) scale(0.94,1)">25</text><text transform="translate(394.4,423.6) scale(0.94,1)">25</text><text transform="translate(473.0,426.6) scale(0.94,1)">28</text><text transform="translate(316.6,450.0) scale(0.94,1)">26</text><text transform="translate(376.8,450.0) scale(0.94,1)">25</text><text transform="translate(427.7,449.6) scale(0.94,1)">27</text><text transform="translate(316.6,477.6) scale(0.94,1)">27</text><text transform="translate(376.8,477.6) scale(0.94,1)">25</text><text transform="translate(376.8,506.6) scale(0.94,1)">27</text><text transform="translate(376.8,532.6) scale(0.94,1)">28</text><text transform="translate(290.5,538.1) scale(0.94,1)">31</text><text transform="translate(291.0,569.8000000000001) scale(0.94,1)">32</text><text transform="translate(204.5,553.6) scale(0.94,1)">35</text><text transform="translate(240.0,589.6) scale(0.94,1)">42</text><text transform="translate(377.3,555.2) scale(0.94,1)">28</text><text transform="translate(377.3,577.8000000000001) scale(0.94,1)">29</text><text transform="translate(414.0,615.0) scale(0.94,1)">32</text><text transform="translate(338.7,657.1) scale(0.94,1)">34</text><text transform="translate(414.0,657.6) scale(0.94,1)">36</text><text transform="translate(530.5,426.20000000000005) scale(0.94,1)">28</text><text transform="translate(559.0,426.20000000000005) scale(0.94,1)">30</text><text transform="translate(645.7,426.20000000000005) scale(0.94,1)">35</text><text transform="translate(695.0,426.20000000000005) scale(0.94,1)">41</text><text transform="translate(604.8,445.0) scale(0.94,1)">31</text><text transform="translate(718.8,448.8) scale(0.94,1)">44</text><text transform="translate(494.3,462.1) scale(0.94,1)">26</text><text transform="translate(559.0,462.1) scale(0.94,1)">29</text><text transform="translate(587.5,462.1) scale(0.94,1)">28</text><text transform="translate(695.0,461.3) scale(0.94,1)">38</text><text transform="translate(645.7,483.90000000000003) scale(0.94,1)">37</text><text transform="translate(680.8,505.20000000000005) scale(0.94,1)">43</text><text transform="translate(494.3,505.20000000000005) scale(0.94,1)">26</text><text transform="translate(559.0,505.20000000000005) scale(0.94,1)">29</text><text transform="translate(599.3,505.20000000000005) scale(0.94,1)">37</text><text transform="translate(541.6,532.1) scale(0.94,1)">31</text><text transform="translate(589.3,532.1) scale(0.94,1)">31</text><text transform="translate(728.4,505.20000000000005) scale(0.94,1)">62</text><text transform="translate(710.5,535.6) scale(0.94,1)">44</text><text transform="translate(752.7,425.40000000000003) scale(0.94,1)">53</text><text transform="translate(782.8,506.6) scale(0.94,1)">57</text><text transform="translate(813.7,506.6) scale(0.94,1)">65</text><text transform="translate(845.6,506.6) scale(0.94,1)">68</text><text transform="translate(939.7,506.6) scale(0.94,1)">89</text><text transform="translate(56.0,614.9) scale(0.94,1)">67</text><text transform="translate(123.8,614.9) scale(0.94,1)">58</text><text transform="translate(56.0,701.9) scale(0.94,1)">65</text><text transform="translate(56.0,740.6) scale(0.94,1)">71</text><text transform="translate(494.4,556.0) scale(0.94,1)">29</text><text transform="translate(520.2,556.0) scale(0.94,1)">32</text><text transform="translate(610.6,556.0) scale(0.94,1)">31</text><text transform="translate(494.4,578.6) scale(0.94,1)">30</text><text transform="translate(668.3,578.6) scale(0.94,1)">33</text><text transform="translate(659.5,603.6) scale(0.94,1)">29</text><text transform="translate(494.4,615.0) scale(0.94,1)">33</text><text transform="translate(680.9,626.3000000000001) scale(0.94,1)">31</text><text transform="translate(494.4,654.4) scale(0.94,1)">39</text><text transform="translate(646.2,654.4) scale(0.94,1)">43</text><text transform="translate(681.0,654.4) scale(0.94,1)">35</text><text transform="translate(710.0,654.4) scale(0.94,1)">35</text><text transform="translate(518.5,680.0) scale(0.94,1)">43</text><text transform="translate(540.0,701.6) scale(0.94,1)">46</text><text transform="translate(560.0,722.2) scale(0.94,1)">50</text><text transform="translate(605.4,742.6) scale(0.94,1)">59</text><text transform="translate(646.3,742.6) scale(0.94,1)">64</text><text transform="translate(681.0,701.6) scale(0.94,1)">41</text><text transform="translate(702.0,722.2) scale(0.94,1)">46</text><text transform="translate(752.7,557.2) scale(0.94,1)">56</text><text transform="translate(783.6,557.2) scale(0.94,1)">64</text><text transform="translate(845.6,557.2) scale(0.94,1)">72</text><text transform="translate(845.6,595.6) scale(0.94,1)">72</text><text transform="translate(752.7,626.3000000000001) scale(0.94,1)">50</text><text transform="translate(813.7,626.3000000000001) scale(0.94,1)">54</text><text transform="translate(909.6,626.3000000000001) scale(0.94,1)">87</text><text transform="translate(752.7,654.4) scale(0.94,1)">44</text><text transform="translate(813.7,654.4) scale(0.94,1)">54</text><text transform="translate(845.6,654.4) scale(0.94,1)">64</text><text transform="translate(909.6,654.4) scale(0.94,1)">81</text><text transform="translate(758.5,742.6) scale(0.94,1)">52</text><text transform="translate(795.0,742.6) scale(0.94,1)">55</text><text transform="translate(832.6,742.6) scale(0.94,1)">61</text><text transform="translate(869.8,742.6) scale(0.94,1)">70</text><text transform="translate(910.0,742.6) scale(0.94,1)">88</text></g><g fill="#1a1a1a" font-family="Liberation Sans" font-weight="bold" font-style="italic" font-size="6.2"><text transform="translate(219.5,17.0) scale(0.89,1)" text-anchor="end">Craigieburn</text><text transform="translate(246.5,49.0) scale(0.89,1)" text-anchor="start">Roxburgh Park</text><text transform="translate(244.0,89.1) scale(0.89,1)" text-anchor="start">Broadmeadows</text><text transform="translate(107.5,79.5) scale(0.89,1)" text-anchor="end">Tullamarine</text><text transform="translate(107.5,86.5) scale(0.89,1)" text-anchor="end">Airport</text><text transform="translate(176.0,60.1) scale(0.89,1)" text-anchor="middle">Gladstone</text><text transform="translate(176.0,67.1) scale(0.89,1)" text-anchor="middle">Park</text><text transform="translate(134.5,133.5) scale(0.89,1)" text-anchor="end">Airport West</text><text transform="translate(201.5,117.8) scale(0.89,1)" text-anchor="middle">Niddrie</text><text transform="translate(243.0,119.3) scale(0.89,1)" text-anchor="start">Glenroy</text><text transform="translate(37.5,133.5) scale(0.89,1)" text-anchor="end">Sydenham</text><text transform="translate(64.5,167.0) scale(0.89,1)" text-anchor="start">St. Albans</text><text transform="translate(134.5,167.0) scale(0.89,1)" text-anchor="end">Milleara</text><text transform="translate(246.5,166.5) scale(0.89,1)" text-anchor="start">Essendon</text><text transform="translate(337.5,59.0) scale(0.89,1)" text-anchor="start">Upfield</text><text transform="translate(272.5,145.5) scale(0.89,1)" text-anchor="middle">West</text><text transform="translate(272.5,152.5) scale(0.89,1)" text-anchor="middle">Coburg</text><text transform="translate(328.7,118.5) scale(0.89,1)" text-anchor="start">Coburg</text><text transform="translate(371.3,118.5) scale(0.89,1)" text-anchor="start">Coburg</text><text transform="translate(371.3,125.5) scale(0.89,1)" text-anchor="start">Sydney Rd</text><text transform="translate(504.0,142.6) scale(0.89,1)" text-anchor="middle">West</text><text transform="translate(504.0,149.6) scale(0.89,1)" text-anchor="middle">Preston</text><text transform="translate(328.0,165.3) scale(0.89,1)" text-anchor="end">Moreland</text><text transform="translate(449.0,166.1) scale(0.89,1)" text-anchor="middle">East Brunswick</text><text transform="translate(449.0,173.1) scale(0.89,1)" text-anchor="middle">Nicholson St</text><text transform="translate(516.0,25.1) scale(0.89,1)" text-anchor="end">Epping</text><text transform="translate(641.0,24.1) scale(0.89,1)" text-anchor="start">South Morang</text><text transform="translate(605.5,53.5) scale(0.89,1)" text-anchor="start">Bundoora</text><text transform="translate(605.5,60.5) scale(0.89,1)" text-anchor="start">RMIT</text><text transform="translate(514.5,73.1) scale(0.89,1)" text-anchor="end">Keon Park</text><text transform="translate(541.5,108.0) scale(0.89,1)" text-anchor="start">Reservoir</text><text transform="translate(605.5,104.5) scale(0.89,1)" text-anchor="start">Latrobe</text><text transform="translate(605.5,111.5) scale(0.89,1)" text-anchor="start">University</text><text transform="translate(540.5,126.1) scale(0.89,1)" text-anchor="start">Preston</text><text transform="translate(574.0,142.6) scale(0.89,1)" text-anchor="middle">East</text><text transform="translate(574.0,149.6) scale(0.89,1)" text-anchor="middle">Preston</text><text transform="translate(628.0,149.1) scale(0.89,1)" text-anchor="middle">Northland</text><text transform="translate(664.0,110.1) scale(0.89,1)" text-anchor="middle">West</text><text transform="translate(664.0,117.1) scale(0.89,1)" text-anchor="middle">Heidelberg</text><text transform="translate(706.5,164.0) scale(0.89,1)" text-anchor="start">Heidelberg</text><text transform="translate(683.0,189.3) scale(0.89,1)" text-anchor="start">Ivanhoe</text><text transform="translate(541.7,181.9) scale(0.89,1)" text-anchor="start">Northcote</text><text transform="translate(587.2,203.4) scale(0.89,1)" text-anchor="end">Northcote</text><text transform="translate(587.2,210.4) scale(0.89,1)" text-anchor="end">High St</text><text transform="translate(718.0,74.6) scale(0.89,1)" text-anchor="end">Greensborough</text><text transform="translate(776.0,99.1) scale(0.89,1)" text-anchor="middle">Eltham</text><text transform="translate(66.0,255.6) scale(0.89,1)" text-anchor="start">Sunshine</text><text transform="translate(107.0,288.1) scale(0.89,1)" text-anchor="middle">Braybrook</text><text transform="translate(157.5,250.0) scale(0.89,1)" text-anchor="end">Highpoint</text><text transform="translate(195.0,200.6) scale(0.89,1)" text-anchor="middle">Ascot Vale</text><text transform="translate(195.0,207.6) scale(0.89,1)" text-anchor="middle">Union Rd</text><text transform="translate(230.0,181.6) scale(0.89,1)" text-anchor="end">Moonee</text><text transform="translate(230.0,188.6) scale(0.89,1)" text-anchor="end">Ponds</text><text transform="translate(256.5,193.6) scale(0.89,1)" text-anchor="start">Moonee</text><text transform="translate(256.5,200.6) scale(0.89,1)" text-anchor="start">Ponds</text><text transform="translate(256.5,207.6) scale(0.89,1)" text-anchor="start">Town Hall</text><text transform="translate(238.0,247.1) scale(0.89,1)" text-anchor="start">Newmarket</text><text transform="translate(182.0,310.1) scale(0.89,1)" text-anchor="start">Footscray</text><text transform="translate(310.2,210.5) scale(0.89,1)" text-anchor="end">Jewell</text><text transform="translate(365.0,224.1) scale(0.89,1)" text-anchor="start">Brunswick</text><text transform="translate(365.0,231.1) scale(0.89,1)" text-anchor="start">Sydney Rd</text><text transform="translate(392.0,193.6) scale(0.89,1)" text-anchor="middle">East Brunswick</text><text transform="translate(392.0,200.6) scale(0.89,1)" text-anchor="middle">Lygon St</text><text transform="translate(328.5,238.8) scale(0.89,1)" text-anchor="start">Royal</text><text transform="translate(328.5,245.8) scale(0.89,1)" text-anchor="start">Park</text><text transform="translate(266.0,268.9) scale(0.89,1)" text-anchor="middle">Flemington</text><text transform="translate(266.0,275.9) scale(0.89,1)" text-anchor="middle">Bridge</text><text transform="translate(369.0,271.0) scale(0.89,1)" text-anchor="start">Parkville</text><text transform="translate(403.5,284.8) scale(0.89,1)" text-anchor="end">Carlton</text><text transform="translate(403.5,291.8) scale(0.89,1)" text-anchor="end">Lygon St</text><text transform="translate(453.5,259.4) scale(0.89,1)" text-anchor="start">Fitzroy</text><text transform="translate(453.5,266.4) scale(0.89,1)" text-anchor="start">Nicholson</text><text transform="translate(453.5,273.4) scale(0.89,1)" text-anchor="start">St</text><text transform="translate(491.3,258.4) scale(0.89,1)" text-anchor="start">Fitzroy</text><text transform="translate(491.3,265.4) scale(0.89,1)" text-anchor="start">Brunswick</text><text transform="translate(491.3,272.4) scale(0.89,1)" text-anchor="start">St</text><text transform="translate(491.5,204.1) scale(0.89,1)" text-anchor="start">North</text><text transform="translate(491.5,211.1) scale(0.89,1)" text-anchor="start">Fitzroy</text><text transform="translate(324.5,301.5) scale(0.89,1)" text-anchor="end">North</text><text transform="translate(324.5,308.5) scale(0.89,1)" text-anchor="end">Melbourne</text><text transform="translate(324.5,315.5) scale(0.89,1)" text-anchor="end">Victoria St</text><text transform="translate(409.5,305.5) scale(0.89,1)" text-anchor="start">Melbourne</text><text transform="translate(409.5,312.5) scale(0.89,1)" text-anchor="start">University</text><text transform="translate(269.1,317.0) scale(0.89,1)" text-anchor="start">North</text><text transform="translate(269.1,324.0) scale(0.89,1)" text-anchor="start">Melbourne</text><text transform="translate(363.0,308.1) scale(0.89,1)" text-anchor="start">QV</text><text transform="translate(363.0,315.1) scale(0.89,1)" text-anchor="start">Markets</text><text transform="translate(294.0,332.8) scale(0.89,1)" text-anchor="middle">Flagstaff</text><text transform="translate(394.5,338.8) scale(0.89,1)" text-anchor="start">M Central</text><text transform="translate(494.8,381.6) scale(0.89,1)" text-anchor="middle">St. Vincents</text><text transform="translate(494.8,388.6) scale(0.89,1)" text-anchor="middle">Plaza</text><text transform="translate(554.9,244.8) scale(0.89,1)" text-anchor="end">Clifton Hill</text><text transform="translate(554.9,251.8) scale(0.89,1)" text-anchor="end">Queens Pde</text><text transform="translate(619.0,248.3) scale(0.89,1)" text-anchor="start">Clifton Hill</text><text transform="translate(641.5,229.5) scale(0.89,1)" text-anchor="start">Westgarth</text><text transform="translate(520.0,302.6) scale(0.89,1)" text-anchor="start">Collingwood</text><text transform="translate(520.0,309.6) scale(0.89,1)" text-anchor="start">Smith St</text><text transform="translate(588.0,283.1) scale(0.89,1)" text-anchor="middle">Victoria</text><text transform="translate(588.0,290.1) scale(0.89,1)" text-anchor="middle">Park</text><text transform="translate(670.8,302.1) scale(0.89,1)" text-anchor="middle">North</text><text transform="translate(670.8,309.1) scale(0.89,1)" text-anchor="middle">Balwyn</text><text transform="translate(627.3,361.8) scale(0.89,1)" text-anchor="middle">Kew</text><text transform="translate(627.3,368.8) scale(0.89,1)" text-anchor="middle">Junction</text><text transform="translate(535.0,343.9) scale(0.89,1)" text-anchor="end">North</text><text transform="translate(535.0,350.9) scale(0.89,1)" text-anchor="end">Richmond</text><text transform="translate(570.0,374.9) scale(0.89,1)" text-anchor="start">North</text><text transform="translate(570.0,381.9) scale(0.89,1)" text-anchor="start">Richmond</text><text transform="translate(570.0,388.9) scale(0.89,1)" text-anchor="start">Victoria St</text><text transform="translate(766.8,220.8) scale(0.89,1)" text-anchor="start">Templestowe</text><text transform="translate(858.0,220.8) scale(0.89,1)" text-anchor="start">The Pines</text><text transform="translate(766.8,280.6) scale(0.89,1)" text-anchor="start">Doncaster</text><text transform="translate(858.5,325.0) scale(0.89,1)" text-anchor="start">Donvale</text><text transform="translate(741.7,355.9) scale(0.89,1)" text-anchor="end">Box Hill</text><text transform="translate(803.7,382.9) scale(0.89,1)" text-anchor="middle">Blackburn</text><text transform="translate(855.6,381.4) scale(0.89,1)" text-anchor="start">Nunawading</text><text transform="translate(893.2,352.4) scale(0.89,1)" text-anchor="start">Mitcham</text><text transform="translate(953.2,366.8) scale(0.89,1)" text-anchor="start">Ringwood</text><text transform="translate(38.0,480.5) scale(0.89,1)" text-anchor="end">Altona</text><text transform="translate(38.0,487.5) scale(0.89,1)" text-anchor="end">North</text><text transform="translate(102.5,552.0) scale(0.89,1)" text-anchor="start">Newport</text><text transform="translate(119.1,389.7) scale(0.89,1)" text-anchor="middle">Docklands</text><text transform="translate(119.1,396.7) scale(0.89,1)" text-anchor="middle">Waterfront</text><text transform="translate(119.1,403.7) scale(0.89,1)" text-anchor="middle">City</text><text transform="translate(171.0,367.7) scale(0.89,1)" text-anchor="middle">Docklands</text><text transform="translate(171.0,374.7) scale(0.89,1)" text-anchor="middle">Harbour</text><text transform="translate(171.0,381.7) scale(0.89,1)" text-anchor="middle">Esplanade</text><text transform="translate(176.8,419.8) scale(0.89,1)" text-anchor="middle">Docklands</text><text transform="translate(176.8,426.8) scale(0.89,1)" text-anchor="middle">Victoria</text><text transform="translate(176.8,433.8) scale(0.89,1)" text-anchor="middle">Harbour</text><text transform="translate(227.0,376.6) scale(0.89,1)" text-anchor="end">Spencer-</text><text transform="translate(227.0,383.6) scale(0.89,1)" text-anchor="end">Lonsdale</text><text transform="translate(228.0,332.6) scale(0.89,1)" text-anchor="end">Spencer-</text><text transform="translate(228.0,339.6) scale(0.89,1)" text-anchor="end">Latrobe</text><text transform="translate(228.5,456.6) scale(0.89,1)" text-anchor="end">Spencer-</text><text transform="translate(228.5,463.6) scale(0.89,1)" text-anchor="end">Flinders</text><text transform="translate(225.0,484.0) scale(0.89,1)" text-anchor="end">Crown Casino</text><text transform="translate(269.0,409.4) scale(0.89,1)" text-anchor="start">Southern</text><text transform="translate(269.0,416.4) scale(0.89,1)" text-anchor="start">Cross</text><text transform="translate(277.0,379.1) scale(0.89,1)" text-anchor="middle">Williams-</text><text transform="translate(277.0,386.1) scale(0.89,1)" text-anchor="middle">Lonsdale</text><text transform="translate(406.4,384.1) scale(0.89,1)" text-anchor="start">Swanston-</text><text transform="translate(406.4,391.1) scale(0.89,1)" text-anchor="start">Bourke</text><text transform="translate(406.4,406.6) scale(0.89,1)" text-anchor="start">Swanston-</text><text transform="translate(406.4,413.6) scale(0.89,1)" text-anchor="start">Collins</text><text transform="translate(460.5,398.5) scale(0.89,1)" text-anchor="start">Parliament</text><text transform="translate(277.0,429.1) scale(0.89,1)" text-anchor="middle">Williams-</text><text transform="translate(277.0,436.1) scale(0.89,1)" text-anchor="middle">Collins</text><text transform="translate(498.0,431.1) scale(0.89,1)" text-anchor="middle">Jolimont</text><text transform="translate(307.6,457.0) scale(0.89,1)" text-anchor="end">Market-</text><text transform="translate(307.6,464.0) scale(0.89,1)" text-anchor="end">Flinders</text><text transform="translate(366.8,457.0) scale(0.89,1)" text-anchor="end">Flinders</text><text transform="translate(366.8,464.0) scale(0.89,1)" text-anchor="end">Street</text><text transform="translate(427.7,471.6) scale(0.89,1)" text-anchor="middle">Exhibition-</text><text transform="translate(427.7,478.6) scale(0.89,1)" text-anchor="middle">Flinders</text><text transform="translate(302.6,476.6) scale(0.89,1)" text-anchor="end">Southbank</text><text transform="translate(390.3,472.5) scale(0.89,1)" text-anchor="start">Arts</text><text transform="translate(390.3,479.5) scale(0.89,1)" text-anchor="start">Precinct</text><text transform="translate(390.3,507.6) scale(0.89,1)" text-anchor="start">St. Kilda-</text><text transform="translate(390.3,514.6) scale(0.89,1)" text-anchor="start">Domain</text><text transform="translate(363.3,527.5) scale(0.89,1)" text-anchor="end">St. Kilda-</text><text transform="translate(363.3,534.5) scale(0.89,1)" text-anchor="end">Commercial</text><text transform="translate(294.5,514.6) scale(0.89,1)" text-anchor="middle">Emerald</text><text transform="translate(294.5,521.6) scale(0.89,1)" text-anchor="middle">Hill</text><text transform="translate(291.0,584.3) scale(0.89,1)" text-anchor="middle">South</text><text transform="translate(291.0,591.3) scale(0.89,1)" text-anchor="middle">Melbourne</text><text transform="translate(204.5,568.1) scale(0.89,1)" text-anchor="middle">Port</text><text transform="translate(204.5,575.1) scale(0.89,1)" text-anchor="middle">Melbourne</text><text transform="translate(240.0,604.1) scale(0.89,1)" text-anchor="middle">South Melbourne</text><text transform="translate(240.0,611.1) scale(0.89,1)" text-anchor="middle">Beach</text><text transform="translate(363.8,550.1) scale(0.89,1)" text-anchor="end">St. Kilda-</text><text transform="translate(363.8,557.1) scale(0.89,1)" text-anchor="end">High</text><text transform="translate(363.8,572.7) scale(0.89,1)" text-anchor="end">St. Kilda</text><text transform="translate(363.8,579.7) scale(0.89,1)" text-anchor="end">Junction</text><text transform="translate(414.0,590.5) scale(0.89,1)" text-anchor="middle">St. Kilda</text><text transform="translate(414.0,597.5) scale(0.89,1)" text-anchor="middle">Town Hall</text><text transform="translate(338.7,671.6) scale(0.89,1)" text-anchor="middle">St. Kilda</text><text transform="translate(338.7,678.6) scale(0.89,1)" text-anchor="middle">Fitzroy St</text><text transform="translate(414.0,672.1) scale(0.89,1)" text-anchor="middle">St. Kilda</text><text transform="translate(414.0,679.1) scale(0.89,1)" text-anchor="middle">Acland St</text><text transform="translate(530.5,401.7) scale(0.89,1)" text-anchor="middle">Richmond</text><text transform="translate(530.5,408.7) scale(0.89,1)" text-anchor="middle">Bridge Rd</text><text transform="translate(570.0,402.7) scale(0.89,1)" text-anchor="start">Richmond</text><text transform="translate(570.0,409.7) scale(0.89,1)" text-anchor="start">Town</text><text transform="translate(570.0,416.7) scale(0.89,1)" text-anchor="start">Hall</text><text transform="translate(638.7,408.7) scale(0.89,1)" text-anchor="end">Glenferrie</text><text transform="translate(690.0,409.2) scale(0.89,1)" text-anchor="end">Camberwell</text><text transform="translate(591.3,443.4) scale(0.89,1)" text-anchor="end">Hawthorn</text><text transform="translate(732.3,447.2) scale(0.89,1)" text-anchor="start">Riversdale</text><text transform="translate(499.3,474.6) scale(0.89,1)" text-anchor="start">Richmond</text><text transform="translate(548.0,446.6) scale(0.89,1)" text-anchor="end">East</text><text transform="translate(548.0,453.6) scale(0.89,1)" text-anchor="end">Richmond</text><text transform="translate(582.5,476.6) scale(0.89,1)" text-anchor="middle">Burnley</text><text transform="translate(683.0,446.3) scale(0.89,1)" text-anchor="end">Camberwell</text><text transform="translate(683.0,453.3) scale(0.89,1)" text-anchor="end">Junction</text><text transform="translate(632.7,474.9) scale(0.89,1)" text-anchor="end">Kooyong</text><text transform="translate(680.8,523.2) scale(0.89,1)" text-anchor="middle">Gardiner</text><text transform="translate(481.3,508.7) scale(0.89,1)" text-anchor="end">South</text><text transform="translate(481.3,515.7) scale(0.89,1)" text-anchor="end">Yarra</text><text transform="translate(546.5,490.2) scale(0.89,1)" text-anchor="end">Toorak</text><text transform="translate(546.5,497.2) scale(0.89,1)" text-anchor="end">Chapel St</text><text transform="translate(625.3,490.2) scale(0.89,1)" text-anchor="middle">Toorak</text><text transform="translate(625.3,497.2) scale(0.89,1)" text-anchor="middle">Grange Rd</text><text transform="translate(601.8,521.6) scale(0.89,1)" text-anchor="start">Toorak</text><text transform="translate(734.4,521.2) scale(0.89,1)" text-anchor="middle">Alamein</text><text transform="translate(696.5,535.1) scale(0.89,1)" text-anchor="end">Glen Iris</text><text transform="translate(766.2,420.3) scale(0.89,1)" text-anchor="start">Wattle</text><text transform="translate(766.2,427.3) scale(0.89,1)" text-anchor="start">Park</text><text transform="translate(782.8,482.1) scale(0.89,1)" text-anchor="middle">Deakin</text><text transform="translate(782.8,489.1) scale(0.89,1)" text-anchor="middle">University</text><text transform="translate(813.7,521.1) scale(0.89,1)" text-anchor="middle">East Burwood</text><text transform="translate(813.7,528.1) scale(0.89,1)" text-anchor="middle">Blackburn Rd</text><text transform="translate(851.1,484.6) scale(0.89,1)" text-anchor="start">East Burwood</text><text transform="translate(851.1,491.6) scale(0.89,1)" text-anchor="start">Springvale Rd</text><text transform="translate(953.2,505.0) scale(0.89,1)" text-anchor="start">Knox City</text><text transform="translate(42.5,613.3) scale(0.89,1)" text-anchor="end">Altona</text><text transform="translate(137.3,613.3) scale(0.89,1)" text-anchor="start">Williamstown</text><text transform="translate(69.5,696.8) scale(0.89,1)" text-anchor="start">Hoppers</text><text transform="translate(69.5,703.8) scale(0.89,1)" text-anchor="start">Crossing</text><text transform="translate(69.5,739.0) scale(0.89,1)" text-anchor="start">Werribee</text><text transform="translate(482.4,545.5) scale(0.89,1)" text-anchor="end">Prahran</text><text transform="translate(533.2,561.5) scale(0.89,1)" text-anchor="start">Prahran</text><text transform="translate(533.2,568.5) scale(0.89,1)" text-anchor="start">High St</text><text transform="translate(630.1,539.0) scale(0.89,1)" text-anchor="middle">Arma-</text><text transform="translate(630.1,546.0) scale(0.89,1)" text-anchor="middle">dale</text><text transform="translate(482.4,569.1) scale(0.89,1)" text-anchor="end">Windsor</text><text transform="translate(680.8,562.6) scale(0.89,1)" text-anchor="start">Malvern</text><text transform="translate(680.8,569.6) scale(0.89,1)" text-anchor="start">Wattletree Rd</text><text transform="translate(673.0,602.0) scale(0.89,1)" text-anchor="start">Malvern</text><text transform="translate(498.4,598.2) scale(0.89,1)" text-anchor="start">Balaclava</text><text transform="translate(695.9,629.8) scale(0.89,1)" text-anchor="start">Caulfield</text><text transform="translate(509.9,642.9) scale(0.89,1)" text-anchor="start">Elsternwick</text><text transform="translate(633.2,638.9) scale(0.89,1)" text-anchor="end">South</text><text transform="translate(633.2,645.9) scale(0.89,1)" text-anchor="end">Caulfield</text><text transform="translate(675.5,666.4) scale(0.89,1)" text-anchor="end">Glen</text><text transform="translate(675.5,673.4) scale(0.89,1)" text-anchor="end">Huntly</text><text transform="translate(711.5,668.4) scale(0.89,1)" text-anchor="start">Carnegie</text><text transform="translate(506.0,681.0) scale(0.89,1)" text-anchor="end">Gardenvale</text><text transform="translate(529.0,701.6) scale(0.89,1)" text-anchor="end">North</text><text transform="translate(529.0,708.6) scale(0.89,1)" text-anchor="end">Brighton</text><text transform="translate(585.0,711.7) scale(0.89,1)" text-anchor="middle">Middle</text><text transform="translate(585.0,718.7) scale(0.89,1)" text-anchor="middle">Brighton</text><text transform="translate(592.4,747.6) scale(0.89,1)" text-anchor="end">Hampton</text><text transform="translate(646.3,725.1) scale(0.89,1)" text-anchor="middle">Sandringham</text><text transform="translate(694.5,700.0) scale(0.89,1)" text-anchor="start">Bentleigh</text><text transform="translate(715.5,720.6) scale(0.89,1)" text-anchor="start">Moorabbin</text><text transform="translate(757.7,538.7) scale(0.89,1)" text-anchor="start">Holmesglen</text><text transform="translate(783.6,571.7) scale(0.89,1)" text-anchor="middle">Mount</text><text transform="translate(783.6,578.7) scale(0.89,1)" text-anchor="middle">Waverley</text><text transform="translate(859.1,552.1) scale(0.89,1)" text-anchor="start">Glen</text><text transform="translate(859.1,559.1) scale(0.89,1)" text-anchor="start">Waverley</text><text transform="translate(859.1,590.5) scale(0.89,1)" text-anchor="start">Brandon</text><text transform="translate(859.1,597.5) scale(0.89,1)" text-anchor="start">Park</text><text transform="translate(741.7,615.8) scale(0.89,1)" text-anchor="end">Chadstone</text><text transform="translate(813.7,601.8) scale(0.89,1)" text-anchor="middle">Monash</text><text transform="translate(813.7,608.8) scale(0.89,1)" text-anchor="middle">University</text><text transform="translate(923.1,624.7) scale(0.89,1)" text-anchor="start">Rowville</text><text transform="translate(762.7,638.4) scale(0.89,1)" text-anchor="start">Oakleigh</text><text transform="translate(813.7,668.9) scale(0.89,1)" text-anchor="middle">Clayton</text><text transform="translate(850.1,668.4) scale(0.89,1)" text-anchor="start">Springvale</text><text transform="translate(915.1,668.4) scale(0.89,1)" text-anchor="start">Dandenong</text><text transform="translate(745.5,747.6) scale(0.89,1)" text-anchor="end">Cheltenham</text><text transform="translate(795.0,757.1) scale(0.89,1)" text-anchor="middle">Mentone</text><text transform="translate(832.6,725.1) scale(0.89,1)" text-anchor="middle">Mordialloc</text><text transform="translate(869.8,757.1) scale(0.89,1)" text-anchor="middle">Chelsea</text><text transform="translate(920.0,726.6) scale(0.89,1)" text-anchor="start">Frankston</text></g><g font-family="Liberation Sans" fill="#231f20">
<text x="823.7" y="16.6" font-size="15.4" font-weight="bold" textLength="118" lengthAdjust="spacingAndGlyphs">Melbourne 2010</text>
<text x="823.7" y="28.9" font-size="7.4" textLength="75" lengthAdjust="spacingAndGlyphs">Min Service Standard:</text>
<text x="823.7" y="37.1" font-size="7.4" textLength="179.5" lengthAdjust="spacingAndGlyphs">20 min weekday interpeak, 30 min Saturday/Sunday</text>
<line x1="823.2" y1="48" x2="867" y2="48" stroke="#231f20" stroke-width="6.2" stroke-linecap="round"/>
<line x1="823.3" y1="62" x2="867.6" y2="62" stroke="#231f20" stroke-width="5.9" stroke-dasharray="2.9 1.2"/>
<line x1="823.2" y1="75.8" x2="867" y2="75.8" stroke="#a1a1a3" stroke-width="6.2" stroke-linecap="round"/>
<line x1="823.3" y1="90" x2="867.6" y2="90" stroke="#b3b3b5" stroke-width="5.9" stroke-dasharray="2.9 1.2"/>
<text x="873.4" y="51.1" font-size="9" font-weight="bold" textLength="20.9" lengthAdjust="spacingAndGlyphs">Train</text>
<text x="873.4" y="65" font-size="9" font-weight="bold" textLength="20.9" lengthAdjust="spacingAndGlyphs">Tram</text>
<text x="873.4" y="78.6" font-size="9" font-weight="bold" textLength="14.6" lengthAdjust="spacingAndGlyphs">Bus</text>
<text x="873.4" y="93.3" font-size="9" font-weight="bold" textLength="64.4" lengthAdjust="spacingAndGlyphs">Pedestrian Link</text>
<text x="823.7" y="113.5" font-size="12.6" font-weight="bold" textLength="120.5" lengthAdjust="spacingAndGlyphs">Closeness Centrality</text>
<text x="823.7" y="127.2" font-size="8.3" font-weight="bold" textLength="126.8" lengthAdjust="spacingAndGlyphs">Average Minimum Cumulative</text>
<text x="823.7" y="137.5" font-size="8.3" font-weight="bold" textLength="151.8" lengthAdjust="spacingAndGlyphs">Impediment to/from all other Nodes</text>
<text x="823.7" y="146.7" font-size="8.3" font-weight="bold" textLength="61.5" lengthAdjust="spacingAndGlyphs">in the Network</text>
<text x="823.7" y="168.2" font-size="12.2" font-weight="bold" textLength="52.3" lengthAdjust="spacingAndGlyphs">Average:</text>
<text x="823.7" y="184.4" font-size="14.3" fill="#8b3a96" textLength="30.2" lengthAdjust="spacingAndGlyphs">44.8</text>
</g>
</svg></body></html>
